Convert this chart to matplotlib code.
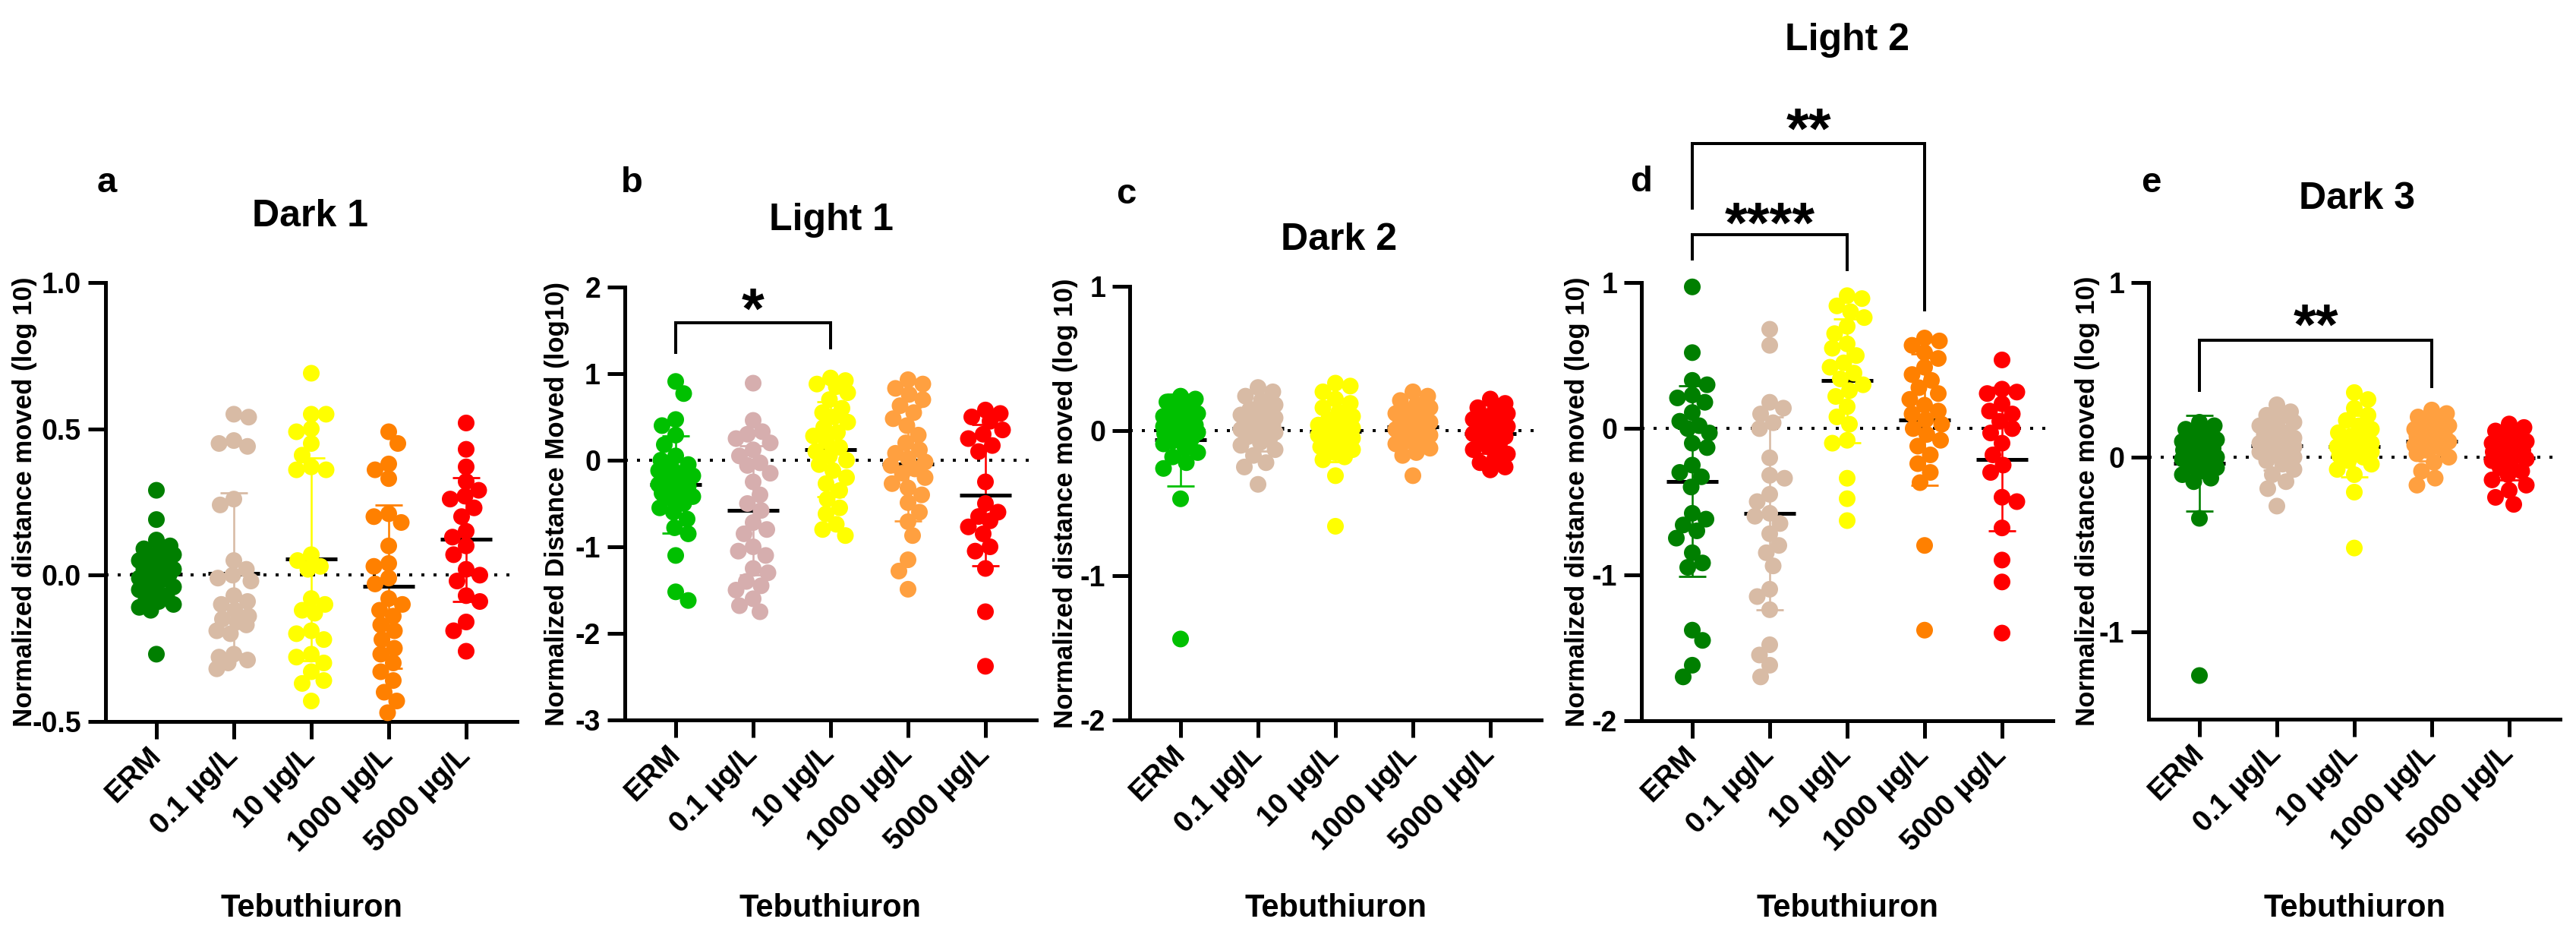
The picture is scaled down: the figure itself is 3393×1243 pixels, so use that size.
import numpy as np
import matplotlib
matplotlib.use("Agg")
import matplotlib.pyplot as plt
from matplotlib import transforms as mtrans

plt.rcParams['font.family'] = ['Liberation Sans', 'DejaVu Sans']
plt.rcParams['axes.unicode_minus'] = False

# ---------------- data ----------------
categories = ['ERM', '0.1 µg/L', '10 µg/L', '1000 µg/L', '5000 µg/L']
x_title = 'Tebuthiuron'
panel_titles = ['Dark 1', 'Light 1', 'Dark 2', 'Light 2', 'Dark 3']
panel_letters = ['a', 'b', 'c', 'd', 'e']
y_titles = ['Normalized distance moved (log 10)',
            'Normalized Distance Moved (log10)',
            'Normalized distance moved (log 10)',
            'Normalized distance moved (log 10)',
            'Normalized distance moved (log 10)']

yticks_a = [-0.5, 0.0, 0.5, 1.0]
yticklabels_a = ['-0.5', '0.0', '0.5', '1.0']
yticks_b = [-3, -2, -1, 0, 1, 2]
yticks_c = [-2, -1, 0, 1]
yticks_d = [-2, -1, 0, 1]
yticks_e = [-1, 0, 1]

# Dark 1
dark1_erm = [0.29, 0.19, 0.12, 0.10, 0.09, 0.08, 0.07, 0.06, 0.05, 0.04, 0.03, 0.02, 0.02, 0.01, 0.0,
             0.0, -0.01, -0.02, -0.03, -0.04, -0.05, -0.06, -0.07, -0.08, -0.09, -0.10, -0.11, -0.12, -0.27]
dark1_01 = [0.55, 0.54, 0.46, 0.45, 0.44, 0.26, 0.24, 0.05, 0.02, 0.0, -0.01, -0.02, -0.07, -0.09, -0.10,
            -0.12, -0.14, -0.15, -0.16, -0.17, -0.19, -0.20, -0.27, -0.28, -0.29, -0.30, -0.32]
dark1_10 = [0.69, 0.55, 0.55, 0.50, 0.49, 0.45, 0.41, 0.37, 0.36, 0.36, 0.07, 0.05, 0.03, 0.02, -0.08,
            -0.10, -0.12, -0.13, -0.19, -0.20, -0.22, -0.27, -0.28, -0.30, -0.33, -0.36, -0.37, -0.43]
dark1_1000 = [0.49, 0.45, 0.38, 0.36, 0.33, 0.21, 0.20, 0.18, 0.10, 0.04, 0.03, -0.01, -0.03, -0.08,
              -0.10, -0.12, -0.14, -0.17, -0.19, -0.22, -0.25, -0.27, -0.30, -0.33, -0.36, -0.40, -0.43, -0.47]
dark1_5000 = [0.52, 0.43, 0.37, 0.32, 0.29, 0.27, 0.26, 0.23, 0.20, 0.15, 0.13, 0.10, 0.07, 0.02, 0.0,
              -0.02, -0.07, -0.09, -0.16, -0.19, -0.26]

# Light 1
light1_erm = [0.91, 0.77, 0.47, 0.40, 0.29, 0.18, 0.05, 0.0, -0.05, -0.08, -0.12, -0.15, -0.18, -0.22,
              -0.25, -0.28, -0.30, -0.33, -0.36, -0.38, -0.42, -0.45, -0.50, -0.55, -0.60, -0.68, -0.78,
              -0.85, -1.10, -1.52, -1.62]
light1_01 = [0.89, 0.46, 0.33, 0.30, 0.25, 0.20, 0.12, 0.05, -0.03, -0.06, -0.15, -0.25, -0.40, -0.50,
             -0.58, -0.72, -0.80, -0.85, -1.00, -1.05, -1.10, -1.25, -1.30, -1.40, -1.45, -1.50, -1.60,
             -1.68, -1.75]
light1_10 = [0.95, 0.92, 0.88, 0.85, 0.78, 0.70, 0.60, 0.55, 0.50, 0.44, 0.38, 0.32, 0.28, 0.22, 0.15,
             0.10, 0.05, 0.0, -0.05, -0.12, -0.20, -0.27, -0.35, -0.45, -0.55, -0.62, -0.74, -0.80, -0.87]
light1_1000 = [0.93, 0.88, 0.83, 0.76, 0.70, 0.63, 0.55, 0.48, 0.40, 0.29, 0.20, 0.12, 0.08, 0.02, -0.02,
               -0.06, -0.10, -0.15, -0.20, -0.27, -0.32, -0.40, -0.49, -0.60, -0.71, -0.87, -1.15, -1.28, -1.49]
light1_5000 = [0.58, 0.54, 0.50, 0.45, 0.35, 0.30, 0.25, 0.17, 0.10, -0.25, -0.50, -0.60, -0.65, -0.70,
               -0.77, -0.85, -1.00, -1.05, -1.25, -1.75, -2.38]

# Dark 2
dark2_erm = [0.24, 0.22, 0.20, 0.17, 0.15, 0.12, 0.10, 0.08, 0.06, 0.04, 0.03, 0.02, 0.01, 0.0, -0.01,
             -0.02, -0.04, -0.05, -0.07, -0.09, -0.12, -0.15, -0.18, -0.22, -0.26, -0.47, -1.44]
dark2_01 = [0.30, 0.27, 0.24, 0.21, 0.18, 0.15, 0.13, 0.11, 0.09, 0.07, 0.06, 0.05, 0.04, 0.03, 0.02,
            0.01, 0.0, -0.01, -0.02, -0.04, -0.06, -0.08, -0.10, -0.13, -0.17, -0.22, -0.25, -0.37]
dark2_10 = [0.33, 0.31, 0.27, 0.22, 0.19, 0.16, 0.13, 0.10, 0.08, 0.06, 0.04, 0.02, 0.01, 0.0, -0.01,
            -0.03, -0.05, -0.07, -0.09, -0.11, -0.13, -0.15, -0.18, -0.20, -0.31, -0.66]
dark2_1000 = [0.27, 0.24, 0.21, 0.18, 0.16, 0.14, 0.12, 0.10, 0.08, 0.06, 0.05, 0.04, 0.03, 0.02, 0.01,
              0.0, -0.01, -0.03, -0.05, -0.07, -0.09, -0.12, -0.15, -0.17, -0.31]
dark2_5000 = [0.22, 0.19, 0.16, 0.14, 0.12, 0.10, 0.08, 0.06, 0.04, 0.03, 0.02, 0.0, -0.01, -0.02, -0.04,
              -0.05, -0.07, -0.09, -0.11, -0.13, -0.16, -0.19, -0.22, -0.25, -0.27]

# Light 2
light2_erm = [0.97, 0.52, 0.33, 0.30, 0.23, 0.21, 0.18, 0.11, 0.05, 0.02, 0.0, -0.03, -0.10, -0.13,
              -0.25, -0.30, -0.33, -0.40, -0.58, -0.62, -0.66, -0.70, -0.75, -0.85, -0.92, -0.95, -1.38,
              -1.45, -1.62, -1.70]
light2_01 = [0.68, 0.57, 0.18, 0.14, 0.10, 0.04, 0.0, -0.20, -0.32, -0.34, -0.45, -0.50, -0.58, -0.60,
             -0.65, -0.72, -0.80, -0.85, -0.94, -1.10, -1.15, -1.24, -1.48, -1.55, -1.62, -1.70]
light2_10 = [0.91, 0.89, 0.84, 0.80, 0.76, 0.70, 0.65, 0.58, 0.55, 0.50, 0.45, 0.42, 0.38, 0.34, 0.30,
             0.26, 0.22, 0.15, 0.08, 0.03, -0.08, -0.10, -0.34, -0.48, -0.63]
light2_1000 = [0.62, 0.60, 0.57, 0.52, 0.48, 0.42, 0.37, 0.33, 0.28, 0.24, 0.20, 0.16, 0.12, 0.10, 0.06,
               0.03, 0.0, -0.04, -0.08, -0.12, -0.18, -0.24, -0.30, -0.37, -0.80, -1.38]
light2_5000 = [0.47, 0.27, 0.25, 0.24, 0.17, 0.12, 0.10, 0.05, 0.0, -0.03, -0.10, -0.18, -0.25, -0.30,
               -0.47, -0.50, -0.68, -0.90, -1.05, -1.40]

# Dark 3
dark3_erm = [0.20, 0.18, 0.16, 0.14, 0.12, 0.10, 0.09, 0.07, 0.06, 0.05, 0.04, 0.03, 0.02, 0.01, 0.0,
             -0.01, -0.02, -0.03, -0.05, -0.06, -0.08, -0.10, -0.12, -0.14, -0.35, -1.25]
dark3_01 = [0.30, 0.26, 0.24, 0.22, 0.20, 0.18, 0.16, 0.14, 0.13, 0.12, 0.11, 0.10, 0.09, 0.08, 0.07,
            0.06, 0.05, 0.04, 0.03, 0.02, 0.0, -0.02, -0.04, -0.07, -0.10, -0.14, -0.18, -0.28]
dark3_10 = [0.37, 0.33, 0.28, 0.24, 0.21, 0.18, 0.16, 0.14, 0.12, 0.10, 0.09, 0.08, 0.07, 0.06, 0.05,
            0.04, 0.03, 0.02, 0.01, 0.0, -0.02, -0.04, -0.07, -0.10, -0.20, -0.52]
dark3_1000 = [0.27, 0.25, 0.23, 0.21, 0.19, 0.18, 0.16, 0.15, 0.14, 0.13, 0.12, 0.11, 0.10, 0.09, 0.08,
              0.07, 0.06, 0.05, 0.04, 0.02, 0.0, -0.03, -0.08, -0.12, -0.16]
dark3_5000 = [0.19, 0.17, 0.15, 0.13, 0.11, 0.09, 0.08, 0.06, 0.05, 0.04, 0.03, 0.02, 0.01, 0.0, -0.01,
              -0.02, -0.04, -0.06, -0.08, -0.10, -0.13, -0.16, -0.19, -0.23, -0.27]

# significance brackets: (group_from, group_to, y_top, y_left_end, y_right_end, label, label_y)
sig_b = [(0, 2, 1.59, 1.23, 1.28, '*', 1.92)]
sig_d = [(0, 3, 1.953, 1.50, 0.80, '**', 2.15), (0, 2, 1.325, 1.15, 1.08, '****', 1.51)]
sig_e = [(0, 3, 0.67, 0.374, 0.396, '**', 0.84)]

# ---------------- style / layout ----------------
W, H, DPI = 3393, 1243, 100
DG, BG, TAN, PINK, YEL, OR, LOR, RED = ('#007F00', '#00C000', '#D8BBA5', '#D6AEAE',
                                         '#FFFF00', '#FF8000', '#FFA040', '#FF0000')
panels = [
    dict(groups=[dark1_erm, dark1_01, dark1_10, dark1_1000, dark1_5000],
         colors=[DG, TAN, YEL, OR, RED], ylim=(-0.5, 1.0), yticks=yticks_a, ytl=yticklabels_a,
         left=139, top=372, bottom=950, ylab_x=33, title_xy=(409, 298), letter_xy=(128, 253), sig=[]),
    dict(groups=[light1_erm, light1_01, light1_10, light1_1000, light1_5000],
         colors=[BG, PINK, YEL, LOR, RED], ylim=(-3, 2), yticks=yticks_b, ytl=None,
         left=823, top=378, bottom=948, ylab_x=734, title_xy=(1095, 303), letter_xy=(818, 253), sig=sig_b),
    dict(groups=[dark2_erm, dark2_01, dark2_10, dark2_1000, dark2_5000],
         colors=[BG, TAN, YEL, LOR, RED], ylim=(-2, 1), yticks=yticks_c, ytl=None,
         left=1488, top=377, bottom=948, ylab_x=1404, title_xy=(1764, 329), letter_xy=(1470, 268), sig=[]),
    dict(groups=[light2_erm, light2_01, light2_10, light2_1000, light2_5000],
         colors=[DG, TAN, YEL, OR, RED], ylim=(-2, 1), yticks=yticks_d, ytl=None,
         left=2162, top=372, bottom=949, ylab_x=2078, title_xy=(2433, 66), letter_xy=(2147, 252), sig=sig_d),
    dict(groups=[dark3_erm, dark3_01, dark3_10, dark3_1000, dark3_5000],
         colors=[DG, TAN, YEL, LOR, RED], ylim=(-1.5, 1), yticks=yticks_e, ytl=None,
         left=2830, top=372, bottom=947, ylab_x=2749, title_xy=(3104, 275), letter_xy=(2820, 253), sig=sig_e),
]
AX_W = 542
XLIM = (-0.657, 4.657)
PT = 72.0 / DPI  # points per pixel


def swarm_offsets(vals, ppy, ppx, mind=19.0, maxoff=23.0, step=1.5):
    vals = np.asarray(vals, float)
    n = len(vals)
    ys = vals * ppy
    order = np.argsort(-vals, kind='stable')
    cands = [0.0]
    k = 1
    while k * step <= maxoff:
        cands += [k * step, -k * step]
        k += 1
    cands = np.array(cands)
    px, py = [], []
    offs = np.zeros(n)
    flip = 1.0
    for i in order:
        y = ys[i]
        c = 0.0
        if px:
            P = np.array(px); Q = np.array(py)
            near = np.abs(Q - y) < mind
            if near.any():
                cc = cands * flip
                d = np.sqrt((cc[:, None] - P[near][None, :]) ** 2 +
                            (y - Q[near][None, :]) ** 2).min(axis=1)
                ok = np.where(d >= mind)[0]
                c = cc[ok[0]] if len(ok) else cc[np.argmax(d)]
                flip = -flip
        offs[i] = c
        px.append(c); py.append(y)
    return offs / ppx


fig = plt.figure(figsize=(W / DPI, H / DPI), dpi=DPI)
fig.patch.set_facecolor('white')

for k, p in enumerate(panels):
    left, top, bottom = p['left'], p['top'], p['bottom']
    ax = fig.add_axes([left / W, 1 - bottom / H, AX_W / W, (bottom - top) / H])
    ax.set_facecolor('none')
    ymin, ymax = p['ylim']
    ax.set_xlim(*XLIM)
    ax.set_ylim(ymin, ymax)
    ppy = (bottom - top) / (ymax - ymin)
    ppx = AX_W / (XLIM[1] - XLIM[0])

    ax.axhline(0, color='black', lw=4 * PT, ls=(0, (1, 3)), dash_capstyle='butt', zorder=1)

    for i, (vals, col) in enumerate(zip(p['groups'], p['colors'])):
        vals = np.asarray(vals, float)
        m = vals.mean()
        sd = vals.std(ddof=1)
        ax.plot([i, i], [m - sd, m + sd], color=col, lw=2.6 * PT, zorder=2, solid_capstyle='butt')
        for yy in (m - sd, m + sd):
            ax.plot([i - 0.175, i + 0.175], [yy, yy], color=col, lw=2.8 * PT, zorder=2,
                    solid_capstyle='butt')
        ax.plot([i - 0.33, i + 0.33], [m, m], color='black', lw=5 * PT, zorder=2.5,
                solid_capstyle='butt')
        offs = swarm_offsets(vals, ppy, ppx)
        ax.scatter(i + offs, vals, s=(22 * PT) ** 2, color=col, edgecolors='none',
                   zorder=3, clip_on=False)

    # axes styling
    for s in ('top', 'right'):
        ax.spines[s].set_visible(False)
    for s in ('left', 'bottom'):
        ax.spines[s].set_linewidth(5 * PT)
        ax.spines[s].set_capstyle('projecting')
    ax.tick_params(axis='both', direction='out', length=23 * PT, width=5 * PT, colors='black')
    ax.tick_params(axis='y', pad=9 * PT)
    ax.tick_params(axis='x', pad=17 * PT)
    ytl = p['ytl'] if p['ytl'] is not None else [str(t) for t in p['yticks']]
    ax.set_yticks(p['yticks'], ytl, fontsize=27, fontweight='bold')
    ax.set_xticks(range(len(categories)), categories, rotation=45, ha='right', va='center',
                  rotation_mode='anchor', fontsize=28, fontweight='bold')

    ax.set_ylabel(y_titles[k], fontsize=25, fontweight='bold', va='center')
    ax.yaxis.set_label_coords((p['ylab_x'] - left) / AX_W, 0.5)
    ax.set_xlabel(x_title, fontsize=30, fontweight='bold', va='baseline')
    ax.xaxis.set_label_coords(0.5, (bottom - 1207) / (bottom - top))

    # significance brackets
    for (g0, g1, yt, yl, yr, lab, ly) in p['sig']:
        ax.plot([g0, g0, g1, g1], [yl, yt, yt, yr], color='black', lw=4 * PT, clip_on=False,
                solid_joinstyle='miter', solid_capstyle='butt', zorder=4)
        fs = 55
        shift = mtrans.ScaledTranslation(0, -0.58 * fs / 72.0, fig.dpi_scale_trans)
        ax.text((g0 + g1) / 2, ly, lab, ha='center', va='baseline', fontsize=fs,
                fontweight='bold', transform=ax.transData + shift, clip_on=False)

    tx, ty = p['title_xy']
    fig.text(tx / W, 1 - ty / H, panel_titles[k], ha='center', va='baseline',
             fontsize=36, fontweight='bold')
    lx, ly = p['letter_xy']
    fig.text(lx / W, 1 - ly / H, panel_letters[k], ha='left', va='baseline',
             fontsize=34, fontweight='bold')

fig.savefig('out.png', dpi=DPI, facecolor='white')
